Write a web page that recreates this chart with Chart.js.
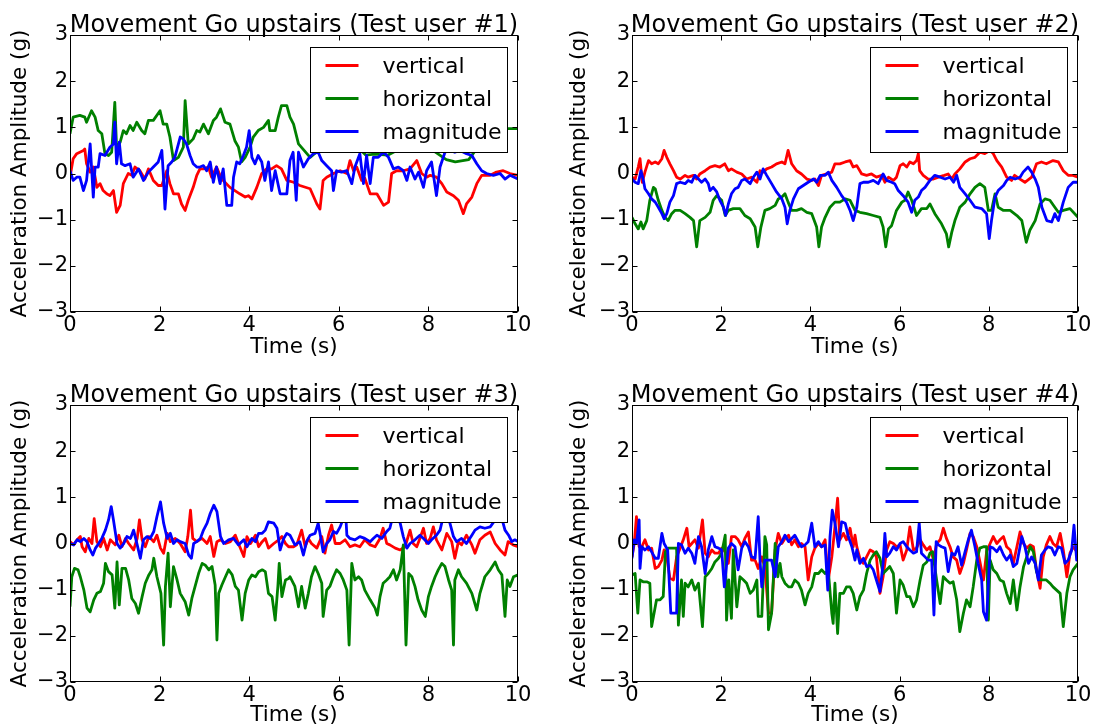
<!DOCTYPE html>
<html>
<head>
<meta charset="utf-8">
<title>Movement Go upstairs</title>
<script src="https://cdn.jsdelivr.net/npm/chart.js@4.4.1/dist/chart.umd.min.js"></script>
<style>
  html, body { margin: 0; padding: 0; background: #fff; overflow: hidden; }
  #figure { position: relative; width: 1101px; height: 728px; }
  #figure canvas { position: absolute; }
</style>
</head>
<body>
<div id="figure">
  <canvas id="panel1" width="550" height="364" style="left:0;top:0"></canvas>
  <canvas id="panel2" width="539" height="364" style="left:562px;top:0"></canvas>
  <canvas id="panel3" width="550" height="364" style="left:0;top:370px"></canvas>
  <canvas id="panel4" width="539" height="364" style="left:562px;top:370px"></canvas>
</div>
<script>
// [time (s), acceleration (g)] samples per test user
const vertical1 = [[0,-.08],[.07,.32],[.15,.43],[.3,.5],[.33,.53],[.37,.21],[.45,.03],[.52,.14],[.6,-.3],[.67,-.22],[.74,-.37],[.82,-.44],[.89,-.48],[.97,-.37],[1.04,-.84],[1.12,-.69],[1.19,-.22],[1.3,0],[1.38,-.04],[1.45,.14],[1.56,.06],[1.67,-.12],[1.75,.1],[1.86,-.15],[1.97,-.26],[2.05,-.26],[2.16,.06],[2.23,-.22],[2.31,-.44],[2.42,-.44],[2.49,-.66],[2.57,-.8],[2.64,-.58],[2.75,-.3],[2.83,-.04],[2.9,.1],[2.98,.1],[3.09,.14],[3.16,-.08],[3.27,.14],[3.35,-.04],[3.42,-.15],[3.57,-.3],[3.68,-.37],[3.79,-.44],[3.91,-.51],[3.98,-.48],[4.06,-.55],[4.17,-.3],[4.28,0],[4.39,.1],[4.5,.1],[4.61,.17],[4.72,.1],[4.84,-.15],[4.99,-.19],[5.13,-.26],[5.36,-.33],[5.51,-.66],[5.58,-.77],[5.65,-.15],[5.73,-.08],[5.88,0],[6.03,.06],[6.18,0],[6.25,.28],[6.33,.06],[6.4,.14],[6.51,-.15],[6.58,-.1],[6.7,-.44],[6.85,-.44],[7.0,-.69],[7.11,-.62],[7.18,0],[7.29,.06],[7.44,.06],[7.59,.1],[7.74,.28],[7.85,0],[7.96,-.08],[8.04,-.04],[8.18,-.08],[8.3,-.22],[8.41,-.4],[8.56,-.48],[8.67,-.58],[8.78,-.87],[8.85,-.66],[8.97,-.51],[9.08,-.22],[9.19,-.04],[9.38,-.04],[9.52,.03],[9.67,.06],[9.82,0],[10,-.04]];
const horizontal1 = [[0,.86],[.07,1.22],[.22,1.26],[.33,1.22],[.37,1.11],[.48,1.36],[.56,1.22],[.63,.93],[.71,.86],[.78,.43],[.86,.39],[.93,.46],[1.0,1.54],[1.04,.57],[1.12,.68],[1.19,.93],[1.26,.86],[1.34,1.04],[1.41,.93],[1.49,1.11],[1.6,.93],[1.67,.86],[1.75,1.15],[1.86,1.15],[2.01,1.36],[2.08,1.07],[2.16,1.07],[2.23,.79],[2.31,.28],[2.42,.35],[2.53,.57],[2.57,1.58],[2.64,.64],[2.75,.75],[2.83,.93],[2.9,.9],[2.98,1.07],[3.09,.86],[3.2,1.15],[3.27,1.22],[3.36,1.4],[3.46,1.11],[3.57,1.07],[3.68,.71],[3.76,.57],[3.83,.25],[3.91,.35],[4.02,.57],[4.09,.79],[4.2,.93],[4.32,1.0],[4.43,1.15],[4.46,.93],[4.58,.93],[4.65,1.22],[4.72,1.47],[4.84,1.47],[4.91,1.22],[4.99,1.07],[5.1,.64],[5.36,.35],[5.6,.55],[5.9,.7],[6.2,.6],[6.5,.5],[6.6,.4],[6.8,.42],[7.1,.4],[7.4,.55],[7.8,.6],[8.1,.5],[8.4,.3],[8.6,.25],[8.9,.3],[9.2,.7],[9.5,1.0],[9.7,.97],[10,.97]];
const magnitude1 = [[0,.06],[.07,-.15],[.15,-.08],[.22,-.08],[.3,-.37],[.37,-.15],[.45,.64],[.52,-.51],[.56,.14],[.63,.14],[.67,.43],[.78,.39],[.89,.57],[.97,.64],[1.0,1.11],[1.04,.21],[1.1,.68],[1.15,.21],[1.23,.17],[1.34,.21],[1.41,-.08],[1.53,.1],[1.64,-.15],[1.75,.03],[1.86,.14],[1.97,.25],[2.05,.5],[2.08,.03],[2.12,-.77],[2.19,.17],[2.27,.25],[2.34,.35],[2.46,.79],[2.53,.75],[2.6,.64],[2.68,.39],[2.75,.21],[2.83,.14],[2.9,.14],[2.98,.17],[3.05,.06],[3.13,.25],[3.2,-.19],[3.27,.14],[3.35,-.22],[3.42,.1],[3.5,-.69],[3.61,-.69],[3.65,-.08],[3.72,.25],[3.79,.21],[3.87,.39],[3.94,.57],[4.0,.93],[4.06,.35],[4.13,.21],[4.2,.39],[4.28,.25],[4.35,-.15],[4.43,.25],[4.5,-.37],[4.58,.06],[4.69,-.44],[4.84,-.44],[4.91,.28],[4.98,.46],[5.05,-.58],[5.1,.46],[5.21,.14],[5.32,.32],[5.43,.43],[5.54,.46],[5.62,.28],[5.73,.17],[5.84,.06],[5.88,-.37],[5.95,.06],[6.06,.03],[6.18,.06],[6.29,-.22],[6.36,.14],[6.47,.43],[6.55,-.22],[6.62,.39],[6.7,-.22],[6.77,.35],[6.88,.35],[7.0,.46],[7.11,.35],[7.22,.1],[7.33,.14],[7.44,.06],[7.52,-.15],[7.59,.14],[7.7,-.12],[7.78,.03],[7.89,-.3],[7.96,.06],[8.07,.25],[8.18,-.48],[8.26,.14],[8.37,.46],[8.48,.5],[8.59,.46],[8.71,.5],[8.85,.43],[8.97,.39],[9.08,.21],[9.19,.06],[9.3,0],[9.45,-.04],[9.6,0],[9.71,-.12],[9.82,-.04],[10,-.12]];

const vertical2 = [[0,-.08],[.07,-.12],[.14,.14],[.18,.32],[.23,-.19],[.29,.03],[.37,.28],[.44,.21],[.52,.25],[.59,.21],[.67,.32],[.72,.5],[.78,.35],[.85,.21],[.93,.06],[1.0,-.08],[1.08,-.12],[1.19,-.04],[1.26,-.08],[1.38,-.04],[1.45,-.12],[1.52,-.01],[1.64,.06],[1.75,.14],[1.86,.17],[1.97,.14],[2.08,.21],[2.16,.06],[2.23,.1],[2.35,.03],[2.46,-.01],[2.57,-.12],[2.68,-.08],[2.8,-.19],[2.87,.06],[2.94,.03],[3.02,.1],[3.13,.14],[3.24,.21],[3.36,.25],[3.43,.21],[3.5,.5],[3.58,.21],[3.69,.06],[3.8,-.01],[3.92,-.12],[4.03,-.15],[4.1,-.12],[4.18,-.26],[4.25,-.04],[4.37,-.01],[4.48,.03],[4.55,.21],[4.66,.21],[4.78,.25],[4.89,.28],[4.96,.14],[5.04,.17],[5.15,-.01],[5.26,-.04],[5.37,-.01],[5.48,-.08],[5.6,-.04],[5.67,-.19],[5.75,-.08],[5.86,-.15],[5.93,-.08],[6.01,.17],[6.08,.21],[6.16,.14],[6.23,.25],[6.31,.21],[6.38,.28],[6.42,.43],[6.45,.06],[6.53,-.04],[6.64,-.12],[6.76,-.12],[6.87,-.08],[7.0,-.04],[7.09,-.01],[7.17,-.12],[7.24,-.01],[7.35,.1],[7.47,.25],[7.58,.32],[7.69,.35],[7.8,.46],[7.91,.43],[8.03,.5],[8.1,.43],[8.18,.28],[8.29,.14],[8.4,-.08],[8.51,-.15],[8.58,-.04],[8.7,-.12],[8.81,-.19],[8.96,-.08],[9.07,.21],[9.18,.25],[9.29,.21],[9.44,.28],[9.56,.25],[9.67,.06],[9.78,-.04],[9.89,-.04],[10,-.08]];
const horizontal2 = [[0,-.95],[.07,-1.09],[.14,-1.2],[.2,-1.05],[.25,-1.2],[.33,-1.02],[.4,-.58],[.48,-.3],[.52,-.33],[.59,-.58],[.67,-.8],[.74,-.95],[.81,-1.02],[.89,-.87],[.96,-.8],[1.08,-.8],[1.19,-.87],[1.3,-.95],[1.38,-1.02],[1.45,-1.59],[1.52,-1.02],[1.64,-.95],[1.75,-.84],[1.82,-.58],[1.9,-.48],[2.01,-.58],[2.09,-.91],[2.16,-.8],[2.27,-.76],[2.42,-.76],[2.53,-.91],[2.65,-.98],[2.76,-1.16],[2.82,-1.59],[2.89,-1.16],[2.98,-.8],[3.09,-.76],[3.21,-.69],[3.28,-.55],[3.36,-.51],[3.43,-.44],[3.5,-.62],[3.58,-.8],[3.69,-.8],[3.8,-.76],[3.92,-.84],[4.03,-.87],[4.14,-1.16],[4.19,-1.59],[4.25,-1.16],[4.33,-.95],[4.44,-.73],[4.55,-.62],[4.66,-.62],[4.78,-.55],[4.89,-.58],[5.0,-.8],[5.11,-.84],[5.26,-.87],[5.41,-.91],[5.56,-.95],[5.63,-1.16],[5.69,-1.59],[5.75,-1.2],[5.82,-1.13],[5.93,-.8],[6.05,-.62],[6.12,-.58],[6.19,-.4],[6.27,-.58],[6.38,-.91],[6.49,-.76],[6.61,-.76],[6.68,-.66],[6.79,-.87],[6.94,-1.09],[7.05,-1.31],[7.1,-1.59],[7.17,-1.27],[7.24,-1.02],[7.35,-.73],[7.47,-.62],[7.58,-.44],[7.69,-.3],[7.8,-.22],[7.91,-.3],[7.99,-.8],[8.06,-.8],[8.14,-.44],[8.21,-.73],[8.33,-.8],[8.48,-.8],[8.63,-.91],[8.74,-1.02],[8.84,-1.49],[8.92,-1.23],[9.04,-1.02],[9.15,-.66],[9.26,-.55],[9.37,-.58],[9.48,-.73],[9.56,-.84],[9.67,-.8],[9.82,-.76],[10,-.95]];
const magnitude2 = [[0,-.12],[.07,-.19],[.14,-.22],[.2,.06],[.25,-.12],[.29,-.33],[.37,-.44],[.44,-.55],[.52,-.62],[.59,-.73],[.67,-.87],[.72,-.98],[.78,-.87],[.85,-.62],[.93,-.48],[1.0,-.22],[1.08,-.19],[1.19,-.22],[1.26,-.15],[1.34,-.19],[1.41,-.04],[1.49,-.12],[1.56,-.19],[1.64,-.12],[1.71,-.22],[1.75,-.37],[1.82,-.3],[1.9,-.4],[1.97,-.58],[2.05,-.73],[2.1,-.91],[2.16,-.66],[2.23,-.44],[2.31,-.33],[2.38,-.3],[2.46,-.15],[2.53,-.12],[2.65,-.22],[2.72,-.08],[2.8,.03],[2.87,-.12],[2.94,.1],[3.02,-.04],[3.13,-.22],[3.24,-.4],[3.36,-.55],[3.43,-.73],[3.48,-1.09],[3.54,-.8],[3.62,-.55],[3.73,-.33],[3.84,-.26],[3.95,-.19],[4.07,-.12],[4.14,-.19],[4.22,-.04],[4.33,-.04],[4.4,.03],[4.48,-.15],[4.59,-.3],[4.7,-.48],[4.81,-.62],[4.89,-.8],[4.96,-1.02],[5.04,-.73],[5.11,-.22],[5.19,-.19],[5.3,-.19],[5.41,-.15],[5.52,-.22],[5.63,-.01],[5.71,-.15],[5.82,-.19],[5.89,-.22],[5.97,-.37],[6.08,-.48],[6.19,-.62],[6.27,-.84],[6.34,-.58],[6.42,-.51],[6.49,-.37],[6.57,-.3],[6.68,-.15],[6.79,-.04],[6.91,-.08],[7.02,-.12],[7.13,-.08],[7.21,-.19],[7.28,-.04],[7.35,-.3],[7.47,-.44],[7.58,-.58],[7.69,-.73],[7.84,-.76],[7.95,-.87],[8.01,-1.41],[8.06,-1.02],[8.14,-.51],[8.21,-.37],[8.33,-.26],[8.4,-.15],[8.48,-.08],[8.59,-.12],[8.7,-.08],[8.77,.03],[8.88,.14],[8.96,.03],[9.04,-.12],[9.11,-.3],[9.19,-.73],[9.3,-1.02],[9.41,-1.05],[9.48,-.87],[9.56,-1.02],[9.67,-.62],[9.78,-.3],[9.89,-.19],[10,-.19]];

const vertical3 = [[0,.04],[.08,-.03],[.16,.08],[.23,.15],[.27,-.07],[.34,-.18],[.42,.11],[.49,0],[.54,.54],[.6,.04],[.68,-.07],[.75,.11],[.83,-.14],[.9,.08],[1.01,-.03],[1.09,.18],[1.16,-.07],[1.24,.11],[1.31,0],[1.42,-.14],[1.5,.11],[1.55,.51],[1.61,.08],[1.68,-.07],[1.76,.15],[1.87,.04],[1.94,.18],[2.02,-.1],[2.09,-.21],[2.17,.22],[2.24,.04],[2.35,.11],[2.46,0],[2.57,-.18],[2.63,.15],[2.69,.72],[2.74,.11],[2.83,.04],[2.95,.11],[3.06,0],[3.13,.15],[3.21,-.28],[3.28,.04],[3.36,.08],[3.47,0],[3.58,.04],[3.69,.18],[3.76,0],[3.88,-.28],[3.95,.15],[4.03,0],[4.14,.18],[4.21,-.07],[4.29,.04],[4.36,.11],[4.43,-.1],[4.55,0],[4.66,.08],[4.73,.15],[4.81,0],[4.88,-.07],[4.99,-.07],[5.06,-.03],[5.17,.29],[5.25,-.07],[5.32,.11],[5.39,0],[5.51,-.1],[5.62,.15],[5.69,-.21],[5.77,.18],[5.84,.4],[5.92,0],[6.03,0],[6.14,.08],[6.25,-.07],[6.36,-.03],[6.47,-.07],[6.58,.08],[6.7,-.03],[6.81,-.07],[6.92,.11],[6.99,.33],[7.07,0],[7.14,-.03],[7.26,-.1],[7.37,-.14],[7.48,-.07],[7.59,.29],[7.66,0],[7.74,-.07],[7.81,.11],[7.89,.33],[7.96,0],[8.04,.11],[8.11,.36],[8.18,.08],[8.3,-.14],[8.41,.22],[8.52,.04],[8.59,-.32],[8.67,.04],[8.74,-.03],[8.85,.18],[8.97,-.03],[9.04,-.21],[9.15,.08],[9.26,.18],[9.38,.25],[9.49,0],[9.6,-.14],[9.71,-.25],[9.78,.04],[9.89,-.03],[10,-.07]];
const horizontal3 = [[0,-1.37],[.04,-.72],[.1,-.54],[.18,-.57],[.23,-.72],[.31,-1.01],[.38,-1.4],[.45,-1.48],[.53,-1.22],[.6,-1.08],[.68,-1.04],[.75,-.86],[.79,-.43],[.86,-.61],[.94,-.68],[1.0,-1.4],[1.05,-.4],[1.1,-1.33],[1.16,-.54],[1.24,-.54],[1.31,-.79],[1.38,-1.19],[1.46,-1.3],[1.53,-1.51],[1.61,-1.15],[1.68,-.86],[1.76,-.68],[1.83,-.57],[1.87,-.32],[1.94,-.72],[2.03,-1.08],[2.09,-2.2],[2.13,-.93],[2.19,-.21],[2.24,-1.37],[2.31,-.5],[2.39,-.79],[2.46,-1.08],[2.57,-1.26],[2.65,-1.55],[2.72,-1.19],[2.8,-.9],[2.87,-.65],[2.95,-.43],[3.02,-.47],[3.1,-.57],[3.17,-.5],[3.24,-.9],[3.28,-2.09],[3.32,-1.08],[3.39,-.9],[3.47,-.72],[3.54,-.57],[3.62,-.68],[3.69,-.93],[3.76,-1.01],[3.84,-1.66],[3.91,-1.08],[3.99,-.79],[4.06,-.68],[4.14,-.72],[4.21,-.61],[4.29,-.57],[4.36,-.61],[4.43,-1.08],[4.51,-1.15],[4.58,-1.66],[4.64,-.93],[4.67,-.43],[4.73,-1.15],[4.81,-.79],[4.88,-.76],[4.91,-.72],[5.02,-.93],[5.1,-1.37],[5.17,-.93],[5.25,-1.4],[5.32,-1.08],[5.39,-.72],[5.47,-.5],[5.54,-.65],[5.62,-.86],[5.65,-1.58],[5.73,-1.01],[5.8,-.93],[5.88,-.72],[5.95,-.57],[6.03,-.65],[6.1,-.79],[6.18,-1.01],[6.23,-2.2],[6.29,-.43],[6.36,-.79],[6.44,-.72],[6.51,-.79],[6.58,-1.01],[6.7,-1.22],[6.81,-1.4],[6.86,-1.55],[6.92,-1.15],[6.99,-.86],[7.07,-.79],[7.14,-.72],[7.22,-.57],[7.29,-.79],[7.37,-.57],[7.44,-.03],[7.5,-2.2],[7.56,-.65],[7.63,-.72],[7.7,-.93],[7.77,-1.22],[7.85,-1.44],[7.93,-1.58],[8.0,-1.15],[8.07,-.93],[8.15,-.72],[8.22,-.57],[8.3,-.43],[8.37,-.5],[8.45,-.79],[8.52,-1.01],[8.56,-2.2],[8.59,-.79],[8.67,-.57],[8.74,-.72],[8.85,-.86],[8.97,-1.08],[9.08,-1.44],[9.15,-1.08],[9.26,-.72],[9.38,-.57],[9.49,-.4],[9.56,-.57],[9.64,-.68],[9.71,-1.58],[9.76,-.79],[9.82,-.93],[9.9,-.72],[10,-.68]];
const magnitude3 = [[0,0],[.08,-.03],[.16,.08],[.23,.04],[.31,.11],[.38,.04],[.45,-.14],[.51,-.25],[.57,-.1],[.64,0],[.71,.11],[.79,.29],[.86,.51],[.92,.8],[.97,.51],[1.05,0],[1.12,-.1],[1.2,0],[1.27,.15],[1.35,.11],[1.42,.29],[1.5,-.03],[1.57,-.32],[1.64,.08],[1.72,.15],[1.79,.11],[1.87,.26],[1.94,.58],[2.02,.9],[2.09,.44],[2.17,.11],[2.24,.22],[2.31,0],[2.39,.08],[2.46,.04],[2.57,0],[2.65,-.25],[2.71,-.32],[2.76,0],[2.83,.04],[2.91,.11],[2.98,.29],[3.06,.44],[3.13,.65],[3.21,.83],[3.28,.69],[3.36,.15],[3.43,0],[3.54,.08],[3.65,.11],[3.76,-.03],[3.88,.08],[3.95,-.07],[4.06,.11],[4.14,.04],[4.21,.22],[4.29,.22],[4.36,.29],[4.43,.47],[4.55,.44],[4.62,.33],[4.69,-.14],[4.77,.11],[4.84,.22],[4.91,.18],[5.02,-.03],[5.13,.04],[5.21,-.25],[5.28,.04],[5.36,.18],[5.47,.22],[5.54,.44],[5.58,.22],[5.65,-.18],[5.73,0],[5.8,.08],[5.88,.26],[5.95,.22],[6.03,.36],[6.1,.54],[6.15,.7],[6.18,.18],[6.25,.11],[6.36,.08],[6.47,.15],[6.58,.11],[6.7,.04],[6.77,.11],[6.85,.18],[6.96,.11],[7.07,.26],[7.14,.33],[7.22,.65],[7.29,.62],[7.37,.44],[7.44,.15],[7.52,-.1],[7.59,0],[7.7,.08],[7.81,.18],[7.89,.11],[8.0,0],[8.07,.08],[8.18,.18],[8.26,.29],[8.33,.58],[8.41,.65],[8.48,.44],[8.56,.15],[8.63,.04],[8.74,.11],[8.85,0],[8.97,.18],[9.04,.29],[9.15,.36],[9.26,.33],[9.38,.36],[9.49,.51],[9.56,.65],[9.64,.54],[9.71,.29],[9.79,.18],[9.86,.04],[9.93,.08],[10,.04]];

const vertical4 = [[0,-.29],[.05,0],[.1,.58],[.16,-.07],[.22,-.07],[.29,.08],[.37,-.14],[.44,-.1],[.52,-.54],[.59,-.5],[.67,-.36],[.72,-.14],[.78,-.29],[.85,-.75],[.93,-.79],[1.0,-.29],[1.08,-.1],[1.15,.08],[1.23,.33],[1.28,-.07],[1.34,0],[1.41,.08],[1.49,-.1],[1.52,.11],[1.58,.51],[1.64,-.21],[1.71,-.29],[1.79,-.14],[1.86,-.21],[1.94,-.21],[2.01,-.1],[2.09,-.18],[2.16,-.43],[2.23,.15],[2.31,.15],[2.38,.08],[2.46,-.07],[2.53,.11],[2.61,.25],[2.68,-.36],[2.76,-.36],[2.83,-.54],[2.91,-.29],[2.98,-.5],[3.06,-1.51],[3.13,-1.51],[3.21,-.14],[3.28,.22],[3.36,0],[3.43,.11],[3.51,.18],[3.58,-.03],[3.65,.08],[3.73,-.07],[3.8,0],[3.88,-.07],[3.95,-.79],[4.03,-.29],[4.1,-.1],[4.18,0],[4.25,-.07],[4.33,.08],[4.4,-.79],[4.48,-.29],[4.55,.36],[4.61,.98],[4.66,.08],[4.74,.22],[4.81,.08],[4.89,.33],[4.96,-.07],[5.0,.18],[5.04,-.07],[5.11,-.32],[5.19,-.43],[5.26,-.29],[5.34,-.14],[5.41,-.18],[5.48,-.29],[5.56,-1.08],[5.63,-.72],[5.71,-.14],[5.78,.04],[5.86,0],[5.93,-.07],[6.01,-.03],[6.08,-.36],[6.16,-.14],[6.23,.36],[6.31,-.14],[6.38,-.1],[6.46,.08],[6.53,-.03],[6.61,-.14],[6.68,-.07],[6.76,-.36],[6.83,0],[6.91,.08],[6.98,.33],[7.05,.11],[7.13,-.07],[7.2,-.29],[7.28,-.36],[7.35,-.65],[7.43,-.43],[7.5,-.14],[7.58,.22],[7.65,.15],[7.73,-.07],[7.8,-.39],[7.88,-.79],[7.95,-.18],[8.03,0],[8.1,.15],[8.18,0],[8.25,.08],[8.33,.15],[8.4,-.07],[8.48,-.14],[8.55,-.43],[8.63,-.07],[8.7,.25],[8.78,0],[8.85,-.1],[8.93,-.03],[9.0,-.07],[9.07,-.57],[9.15,-.97],[9.22,-.29],[9.29,-.03],[9.37,.15],[9.44,0],[9.52,-.07],[9.6,.22],[9.67,-.14],[9.75,-.72],[9.82,-.21],[9.89,-.07],[10,-.21]];
const horizontal4 = [[0,-.68],[.07,-.65],[.13,-1.51],[.18,-.79],[.25,-.83],[.33,-.83],[.4,-.86],[.44,-1.8],[.55,-1.22],[.63,-1.22],[.7,-1.15],[.75,-.18],[.81,-.1],[1.0,-.1],[1.04,-1.77],[1.11,-.79],[1.15,-1.58],[1.19,-.86],[1.26,-.94],[1.34,-.79],[1.41,-1.01],[1.49,-.86],[1.58,-1.8],[1.64,-.72],[1.71,-.65],[1.79,-.54],[1.86,-.4],[1.94,-.32],[2.01,-.21],[2.09,.18],[2.12,-1.66],[2.17,-.79],[2.23,-1.62],[2.27,-.14],[2.35,-1.37],[2.42,-.72],[2.5,-.79],[2.57,-.86],[2.65,-1.08],[2.72,-1.01],[2.8,-.79],[2.83,-1.58],[2.91,-1.58],[2.98,.15],[3.02,-.03],[3.06,-1.87],[3.13,-1.51],[3.21,0],[3.27,-.72],[3.32,-.43],[3.36,-.72],[3.43,-.86],[3.51,-.94],[3.58,-.94],[3.65,-.79],[3.73,-.86],[3.8,-1.01],[3.88,-1.33],[3.95,-1.08],[4.03,-.94],[4.1,-.65],[4.18,-.65],[4.25,-.57],[4.33,-.65],[4.4,-.57],[4.48,-1.51],[4.51,-1.73],[4.55,-.86],[4.61,-1.95],[4.66,-1.08],[4.74,-1.08],[4.81,-.94],[4.89,-.94],[4.96,-1.08],[5.04,-1.44],[5.11,-1.15],[5.19,-1.01],[5.26,-.65],[5.34,-.36],[5.41,-.25],[5.48,-.18],[5.56,-.32],[5.63,-.65],[5.71,-.57],[5.78,-.5],[5.86,-.65],[5.93,-1.51],[6.01,-.79],[6.08,-.9],[6.16,-1.15],[6.23,-1.15],[6.31,-1.37],[6.38,-1.22],[6.46,-.79],[6.53,-.47],[6.61,-.4],[6.68,-.21],[6.74,-.18],[6.83,-.79],[6.91,-1.3],[6.98,-.72],[7.05,-.79],[7.13,-.86],[7.2,-.83],[7.28,-1.22],[7.35,-1.91],[7.43,-1.51],[7.5,-1.22],[7.58,-1.37],[7.65,-.94],[7.73,-.36],[7.8,-.1],[7.88,-.07],[7.95,-.07],[7.99,-1.66],[8.03,-.36],[8.1,-.57],[8.18,-.65],[8.25,-.79],[8.33,-.83],[8.4,-1.08],[8.48,-1.3],[8.55,-.79],[8.63,-1.44],[8.7,-.94],[8.78,-.5],[8.85,-.29],[8.93,-.07],[9.0,-.18],[9.07,-.61],[9.15,-.79],[9.22,-.79],[9.29,-.79],[9.37,-.86],[9.44,-.94],[9.52,-1.01],[9.6,-1.08],[9.67,-1.8],[9.75,-1.08],[9.82,-.72],[9.89,-.57],[10,-.43]];
const magnitude4 = [[0,-.32],[.05,.08],[.1,0],[.16,.51],[.18,-.54],[.22,-.07],[.29,-.14],[.37,-.07],[.44,-.18],[.52,-.32],[.59,-.32],[.67,.22],[.72,0],[.8,-.14],[.87,-1.51],[1.0,-1.51],[1.04,0],[1.11,-.03],[1.19,-.21],[1.26,-.1],[1.34,-.21],[1.41,-.43],[1.49,.15],[1.56,-.07],[1.64,-.65],[1.71,-.14],[1.79,.15],[1.86,-.07],[1.94,-.1],[2.01,-.14],[2.07,-.94],[2.16,-.1],[2.23,0],[2.31,-.07],[2.38,-.57],[2.46,-.1],[2.53,.04],[2.61,-.07],[2.68,-.29],[2.76,-.32],[2.83,.58],[2.87,-.36],[2.91,-.94],[2.98,-.36],[3.06,-.36],[3.13,-.36],[3.21,-.72],[3.28,-.07],[3.36,.04],[3.43,.18],[3.51,.04],[3.58,.11],[3.65,.18],[3.73,.04],[3.8,-.07],[3.88,-.03],[3.95,.04],[4.03,.44],[4.1,-.07],[4.18,.04],[4.25,-.07],[4.33,-.03],[4.39,-1.01],[4.44,.15],[4.49,.72],[4.55,.44],[4.63,-.07],[4.7,.47],[4.78,.44],[4.85,.15],[4.93,-.07],[5.0,-.36],[5.04,-.14],[5.11,-.43],[5.19,-.32],[5.26,-.5],[5.34,-.47],[5.41,-.57],[5.48,-.79],[5.56,-1.04],[5.63,-.43],[5.67,.22],[5.71,-.29],[5.78,-.21],[5.86,-.07],[5.93,-.14],[6.01,0],[6.08,.04],[6.16,-.07],[6.23,-.14],[6.31,-.21],[6.38,-.18],[6.44,.44],[6.49,-.21],[6.57,-.29],[6.64,-.36],[6.72,-.36],[6.77,-1.55],[6.82,.04],[6.87,-.03],[6.94,-.07],[7.02,-.1],[7.09,-.61],[7.17,-.21],[7.24,-.25],[7.31,-.07],[7.39,-.47],[7.46,-.21],[7.54,.08],[7.61,.29],[7.69,-.07],[7.76,-.43],[7.84,-.79],[7.88,-1.48],[7.95,-1.66],[8.03,-.07],[8.1,-.1],[8.18,-.18],[8.25,-.07],[8.33,-.25],[8.4,-.36],[8.48,-.25],[8.55,-.5],[8.63,-.43],[8.7,-.07],[8.74,.15],[8.81,-.07],[8.89,-.43],[8.96,-.29],[9.04,-.43],[9.11,-.79],[9.18,-.25],[9.26,-.14],[9.33,-.07],[9.41,-.1],[9.48,-.25],[9.56,-.07],[9.63,-.1],[9.71,-.43],[9.78,-.36],[9.86,-.14],[9.91,.4],[9.97,-.36],[10,-.18]];

const seriesLabels = ['vertical', 'horizontal', 'magnitude'];
const seriesColors = ['#ff0000', '#008000', '#0000ff'];
const panelTitles = [
  'Movement Go upstairs (Test user #1)',
  'Movement Go upstairs (Test user #2)',
  'Movement Go upstairs (Test user #3)',
  'Movement Go upstairs (Test user #4)'
];

const FONT = '"DejaVu Sans", "Liberation Sans", sans-serif';
Chart.defaults.font.family = FONT;
Chart.defaults.color = '#000';

// black box round the plot area with inward ticks on all four sides
const axesFrame = {
  id: 'axesFrame',
  afterDatasetsDraw(chart) {
    const {ctx, chartArea: a, scales: {x, y}} = chart;
    const L = Math.round(a.left) + 0.5, R = Math.round(a.right) - 0.5;
    const T = Math.round(a.top) + 0.5, B = Math.round(a.bottom) - 0.5;
    ctx.save();
    ctx.strokeStyle = '#000';
    ctx.lineWidth = 1;
    ctx.strokeRect(L, T, R - L, B - T);
    ctx.beginPath();
    x.ticks.forEach(t => {
      const px = Math.round(x.getPixelForValue(t.value)) + 0.5;
      ctx.moveTo(px, B); ctx.lineTo(px, B - 5);
      ctx.moveTo(px, T); ctx.lineTo(px, T + 5);
    });
    y.ticks.forEach(t => {
      const py = Math.round(y.getPixelForValue(t.value)) + 0.5;
      ctx.moveTo(L, py); ctx.lineTo(L + 5, py);
      ctx.moveTo(R, py); ctx.lineTo(R - 5, py);
    });
    ctx.stroke();
    ctx.restore();
  }
};

// title centred over the plot area
const panelTitle = {
  id: 'panelTitle',
  afterDraw(chart, args, opts) {
    const {ctx, chartArea: a} = chart;
    ctx.save();
    ctx.font = '24px ' + FONT;
    ctx.fillStyle = '#000';
    ctx.textAlign = 'center';
    ctx.textBaseline = 'alphabetic';
    ctx.fillText(opts.text, (a.left + a.right) / 2, a.top - 3.5);
    ctx.restore();
  }
};

// boxed legend in the upper right corner of the plot
const boxLegend = {
  id: 'boxLegend',
  afterDraw(chart) {
    const {ctx, chartArea: a} = chart;
    const w = 197, h = 105;
    const left = Math.round(a.right - 11 - w) + 0.5;
    const top = Math.round(a.top + 12) + 0.5;
    ctx.save();
    ctx.fillStyle = '#fff';
    ctx.fillRect(left, top, w, h);
    ctx.strokeStyle = '#000';
    ctx.lineWidth = 1;
    ctx.strokeRect(left, top, w, h);
    ctx.font = '22px ' + FONT;
    ctx.textBaseline = 'middle';
    chart.data.datasets.forEach((ds, i) => {
      const cy = top + 18 + i * 33;
      ctx.strokeStyle = ds.borderColor;
      ctx.lineWidth = 3;
      ctx.beginPath();
      ctx.moveTo(left + 15, cy);
      ctx.lineTo(left + 48, cy);
      ctx.stroke();
      ctx.fillStyle = '#000';
      ctx.fillText(ds.label, left + 72, cy + 2);
    });
    ctx.restore();
  }
};

const minusSign = v => (v < 0 ? '\u2212' + Math.abs(v) : String(v));

function buildPanel(canvasId, title, series, rightPad, yTitlePad, xTitlePad) {
  return new Chart(document.getElementById(canvasId), {
    type: 'line',
    data: {
      datasets: seriesLabels.map((label, i) => ({
        label,
        data: series[i].map(([t, v]) => ({x: t, y: v})),
        borderColor: seriesColors[i],
        borderWidth: 2.8,
        borderJoinStyle: 'round',
        pointRadius: 0,
        tension: 0,
        clip: 0,
        order: 3 - i
      }))
    },
    options: {
      responsive: false,
      animation: false,
      events: [],
      layout: {padding: {top: 35, right: rightPad, left: 0, bottom: 0}},
      plugins: {
        legend: {display: false},
        tooltip: {enabled: false},
        panelTitle: {text: title}
      },
      scales: {
        x: {
          type: 'linear',
          min: 0,
          max: 10,
          grid: {display: false, drawTicks: false},
          border: {display: false},
          ticks: {stepSize: 2, padding: 1, maxRotation: 0, font: {size: 21}, callback: minusSign},
          title: {display: true, text: 'Time (s)', font: {size: 21.5}, padding: {top: 0, bottom: xTitlePad}},
          afterFit: s => { s.height = 52; }
        },
        y: {
          min: -3,
          max: 3,
          grid: {display: false, drawTicks: false},
          border: {display: false},
          ticks: {stepSize: 1, padding: 2, font: {size: 21}, callback: minusSign},
          title: {display: true, text: 'Acceleration Amplitude (g)', font: {size: 21.5}, padding: {top: yTitlePad, bottom: 0}},
          afterFit: s => { s.width = 70; }
        }
      }
    },
    plugins: [axesFrame, panelTitle, boxLegend]
  });
}

buildPanel('panel1', panelTitles[0], [vertical1, horizontal1, magnitude1], 32, 8, 4);
buildPanel('panel2', panelTitles[1], [vertical2, horizontal2, magnitude2], 23, 5, 4);
buildPanel('panel3', panelTitles[2], [vertical3, horizontal3, magnitude3], 32, 8, 5.5);
buildPanel('panel4', panelTitles[3], [vertical4, horizontal4, magnitude4], 23, 5, 5.5);
</script>
</body>
</html>
